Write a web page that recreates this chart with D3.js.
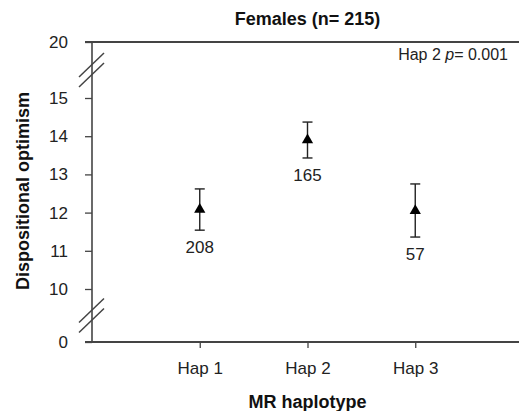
<!DOCTYPE html>
<html><head><meta charset="utf-8">
<script src="https://cdn.jsdelivr.net/npm/d3@7"></script>
<style>body{margin:0;background:#fff}svg{display:block}text{font-family:"Liberation Sans",Arial,sans-serif}</style>
</head><body><svg id="c" width="519" height="411"></svg>
<script>
const categories = ["Hap 1", "Hap 2", "Hap 3"];
const means = [12.08, 13.9, 12.05];
const upper = [12.62, 14.37, 12.75];
const lower = [11.54, 13.43, 11.36];
const counts = ["208", "165", "57"];
const yTicks = [0, 10, 11, 12, 13, 14, 15, 20];
const title = "Females (n= 215)";

const svg = d3.select("#c");
const axisColor = "#444";
const FONT = "Liberation Sans, Arial, sans-serif";
const x = d3.scalePoint().domain(["", ...categories, " "]).range([92, 523]);
const y = d3.scaleLinear().domain([0, 10, 15, 20]).range([342, 289, 98, 42]);

// axes lines
svg.append("line").attr("x1", 92).attr("x2", 92).attr("y1", y(20)).attr("y2", y(0)).attr("stroke", axisColor).attr("stroke-width", 1.6);
svg.append("line").attr("x1", 85).attr("x2", 519).attr("y1", y(0)).attr("y2", y(0)).attr("stroke", axisColor).attr("stroke-width", 1.8);
svg.append("line").attr("x1", 85).attr("x2", 519).attr("y1", y(20)).attr("y2", y(20)).attr("stroke", axisColor).attr("stroke-width", 1.8);

// y axis ticks
const ya = svg.append("g").attr("transform", "translate(92,0)")
  .call(d3.axisLeft(y).tickValues(yTicks).tickSize(7).tickPadding(17).tickFormat(d3.format("d")));
ya.select(".domain").remove();
ya.selectAll("line").attr("stroke", axisColor).attr("stroke-width", 1.3);
ya.selectAll("text").attr("font-size", 17).attr("fill", "#222").style("font-family", FONT);

// x axis ticks
const xa = svg.append("g").attr("transform", `translate(0,${y(0)})`)
  .call(d3.axisBottom(x).tickValues(categories).tickSize(6).tickPadding(14));
xa.select(".domain").remove();
xa.selectAll("line").attr("stroke", axisColor).attr("stroke-width", 1.3);
xa.selectAll("text").attr("font-size", 17).attr("fill", "#222").style("font-family", FONT);

// break marks
function brk(yc) {
  [-5, 5].forEach(o => {
    svg.append("line").attr("x1", 79).attr("x2", 104)
      .attr("y1", yc + o + 12).attr("y2", yc + o - 12)
      .attr("stroke", axisColor).attr("stroke-width", 1.5);
  });
}
brk((y(20) + y(15)) / 2);
brk((y(10) + y(0)) / 2);

// error bars
const g = svg.append("g");
categories.forEach((c, i) => {
  const cx = x(c);
  g.append("line").attr("x1", cx).attr("x2", cx).attr("y1", y(upper[i])).attr("y2", y(lower[i])).attr("stroke", "#222").attr("stroke-width", 1.4);
  [upper[i], lower[i]].forEach(v => {
    g.append("line").attr("x1", cx - 5).attr("x2", cx + 5).attr("y1", y(v)).attr("y2", y(v)).attr("stroke", "#222").attr("stroke-width", 1.4);
  });
  g.append("path").attr("d", d3.symbol(d3.symbolTriangle, 55)()).attr("transform", `translate(${cx},${y(means[i])})`).attr("fill", "#000");
  g.append("text").attr("x", cx).attr("y", y(lower[i]) + 23).attr("text-anchor", "middle").attr("font-size", 17).attr("fill", "#222").text(counts[i]);
});

// titles
svg.append("text").attr("x", x("Hap 2")).attr("y", 25).attr("text-anchor", "middle").attr("font-size", 18).attr("font-weight", "bold").attr("fill", "#111").text(title);
const pt = svg.append("text").attr("x", 508).attr("y", 60).attr("text-anchor", "end").attr("font-size", 16).attr("fill", "#222");
pt.append("tspan").text("Hap 2 ");
pt.append("tspan").attr("font-style", "italic").text("p");
pt.append("tspan").text("= 0.001");
svg.append("text").attr("x", x("Hap 2")).attr("y", 408).attr("text-anchor", "middle").attr("font-size", 18).attr("font-weight", "bold").attr("fill", "#111").text("MR haplotype");
svg.append("text").attr("transform", `translate(29,191) rotate(-90)`).attr("text-anchor", "middle").attr("font-size", 18).attr("font-weight", "bold").attr("fill", "#111").text("Dispositional optimism");
</script></body></html>
